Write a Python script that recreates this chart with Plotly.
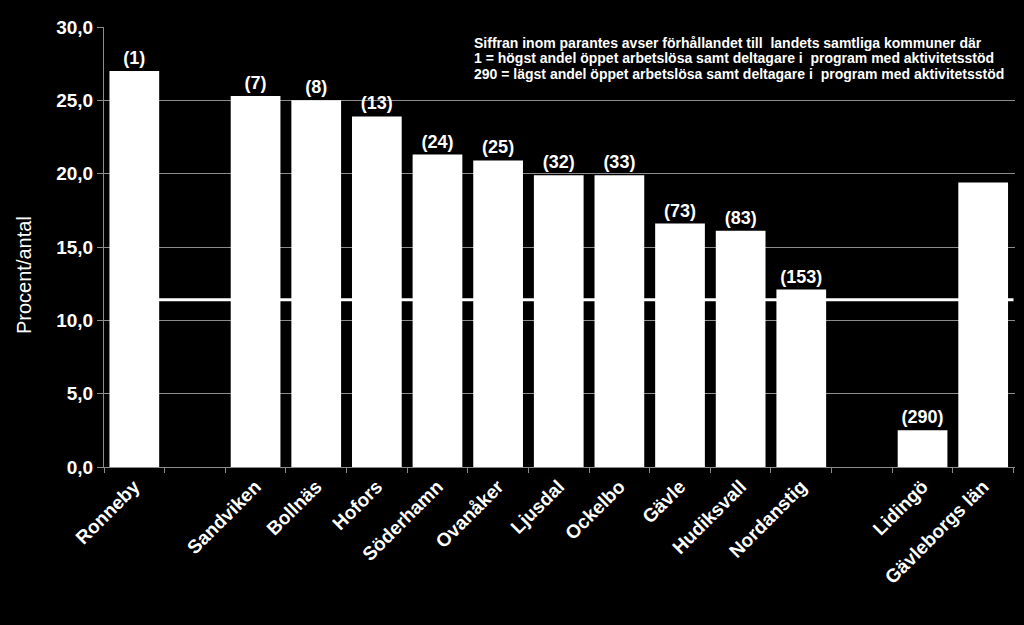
import plotly.graph_objects as go

categories = ["Ronneby", " ", "Sandviken", "Bollnäs", "Hofors", "Söderhamn", "Ovanåker",
              "Ljusdal", "Ockelbo", "Gävle", "Hudiksvall", "Nordanstig", "  ", "Lidingö",
              "Gävleborgs län"]
values = [27.0, None, 25.3, 25.0, 23.9, 21.3, 20.9, 19.9, 19.9, 16.6, 16.1, 12.1, None, 2.5, 19.4]
rank_labels = ["(1)", "", "(7)", "(8)", "(13)", "(24)", "(25)", "(32)", "(33)", "(73)", "(83)",
               "(153)", "", "(290)", ""]
reference_value = 11.4
y_ticks = [0, 5, 10, 15, 20, 25, 30]
y_tick_text = ["0,0", "5,0", "10,0", "15,0", "20,0", "25,0", "30,0"]
y_title = "Procent/antal"
note_lines = [
    "Siffran inom parantes avser förhållandet till  landets samtliga kommuner där",
    "1 = högst andel öppet arbetslösa samt deltagare i  program med aktivitetsstöd",
    "290 = lägst andel öppet arbetslösa samt deltagare i  program med aktivitetsstöd",
]

FONT = "Liberation Sans, Arial, sans-serif"
L, R, T, B = 104, 9, 27, 158
W, H = 1024, 625
plot_h = H - T - B
plot_w = W - L - R

fig = go.Figure()
fig.add_trace(go.Bar(
    x=categories, y=values,
    marker=dict(color="white", line=dict(width=0)),
    text=rank_labels, textposition="outside", cliponaxis=False,
    textfont=dict(color="white", size=18, family=FONT, weight="bold"),
    hoverinfo="skip",
))

fig.add_shape(type="line", xref="x", yref="y",
              x0=-0.35, x1=14.5, y0=reference_value, y1=reference_value,
              line=dict(color="white", width=3), layer="above")

line_centers_px = [43, 58.5, 74]
for txt, py in zip(note_lines, line_centers_px):
    fig.add_annotation(xref="paper", yref="paper", x=(472 - L) / plot_w,
                       y=(H - B - py) / plot_h, xanchor="left", yanchor="middle",
                       text=txt, align="left", showarrow=False,
                       font=dict(color="white", size=14, family=FONT, weight="bold"))

fig.add_annotation(xref="paper", yref="paper", x=(24 - L) / plot_w, y=(H - B - 275) / plot_h,
                   xanchor="center", yanchor="middle", textangle=-90, showarrow=False,
                   text=y_title, font=dict(size=20, color="white", family=FONT))

fig.update_layout(
    width=W, height=H,
    paper_bgcolor="black", plot_bgcolor="black",
    margin=dict(l=L, r=R, t=T, b=B),
    bargap=0.18, showlegend=False,
    font=dict(family=FONT, color="white"),
    xaxis=dict(
        tickangle=-45, tickfont=dict(size=19, color="white", family=FONT, weight="bold"),
        showline=True, linecolor="#8c8c8c", linewidth=1,
        ticks="outside", tickson="boundaries", ticklen=5, tickcolor="#8c8c8c",
        showgrid=False,
    ),
    yaxis=dict(
        range=[0, 30], tickvals=y_ticks, ticktext=y_tick_text,
        tickfont=dict(size=19, color="white", family=FONT, weight="bold"),
        showline=True, linecolor="#8c8c8c", linewidth=1,
        ticks="outside", ticklen=6, tickcolor="#8c8c8c",
        showgrid=True, gridcolor="#8c8c8c", gridwidth=1, zeroline=False,
    ),
)

fig.write_html("out.html", config={"displayModeBar": False},
               post_script="document.body.style.margin='0';document.body.style.background='black';")
